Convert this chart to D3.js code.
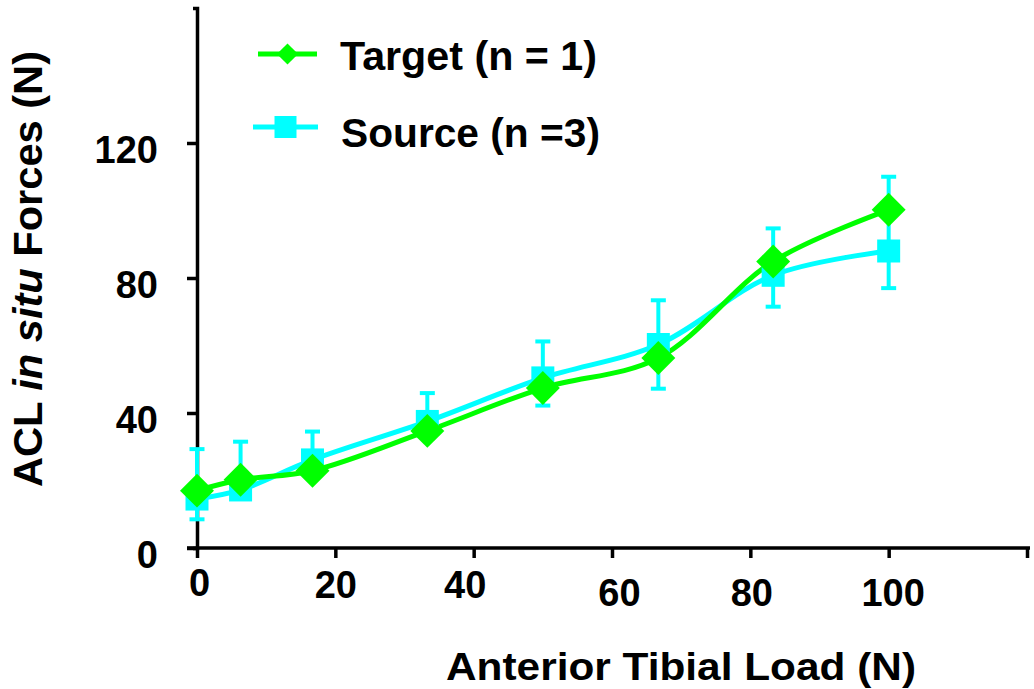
<!DOCTYPE html>
<html>
<head>
<meta charset="utf-8">
<script src="https://cdn.jsdelivr.net/npm/d3@7/dist/d3.min.js"></script>
<style>
  body { margin: 0; background: #fff; }
  svg { display: block; font-family: "Liberation Sans", Arial, sans-serif; }
</style>
</head>
<body>
<div id="container"></div>
<script>
// values
const loads = [0, 6.3, 16.7, 33.3, 50, 66.7, 83.3, 100];
const targetForce = [17.0, 20.2, 22.9, 34.7, 47.4, 56.3, 84.9, 100.2];
const sourceForce = [14.5, 17.2, 26.1, 37.5, 50.4, 60.3, 80.8, 88.0];
const sourceHigh = [29.3, 31.5, 34.5, 45.9, 61.2, 73.4, 94.7, 110.0];
const sourceLow = [8.5, 15.2, 24.5, 36.0, 42.2, 47.2, 71.5, 77.0];
const xTicks = [0, 20, 40, 60, 80, 100, 120];
const yTicks = [0, 40, 80, 120];
const seriesNames = ["Target (n = 1)", "Source (n =3)"];

const width = 1034;
const height = 689;
const green = "#00ff00";
const cyan = "#00ffff";

const svg = d3.select("#container")
  .append("svg")
  .attr("width", width)
  .attr("height", height);

const x = d3.scaleLinear().domain([0, 120]).range([197, 1027]);
const y = d3.scaleLinear().domain([0, 160]).range([548, 8]);

// small hand nudges so the x labels sit like the original
const xLabelNudge = { 0: [2, -2], 40: [-9, 0], 60: [7, 8], 80: [1, 8], 100: [4, 8] };

// axes
const xAxis = svg.append("g")
  .attr("transform", `translate(0,${y(0)})`)
  .call(d3.axisBottom(x).tickValues(xTicks).tickSize(10).tickSizeOuter(0)
    .tickFormat(d => d === 120 ? "" : d));
xAxis.select(".domain").attr("d", `M${x(0) - 10},0H${x(120) + 3}`);
xAxis.selectAll("text")
  .attr("font-size", 38)
  .attr("font-weight", "bold")
  .attr("font-family", "Liberation Sans, Arial, sans-serif")
  .attr("y", 23)
  .attr("transform", d => {
    const n = xLabelNudge[d] || [0, 0];
    return `translate(${n[0]},${n[1]})`;
  });

const yAxis = svg.append("g")
  .attr("transform", `translate(${x(0)},0)`)
  .call(d3.axisLeft(y).tickValues(yTicks).tickSize(10).tickSizeOuter(4).tickPadding(29));
yAxis.selectAll("text")
  .attr("font-size", 38)
  .attr("font-weight", "bold")
  .attr("font-family", "Liberation Sans, Arial, sans-serif")
  .attr("dy", "0.52em");

svg.selectAll(".domain, .tick line")
  .attr("stroke", "#000")
  .attr("stroke-width", 3.5);

// axis titles
svg.append("text")
  .attr("x", 681)
  .attr("y", 680)
  .attr("text-anchor", "middle")
  .attr("font-size", 39)
  .attr("font-weight", "bold")
  .attr("textLength", 470)
  .attr("lengthAdjust", "spacingAndGlyphs")
  .text("Anterior Tibial Load (N)");

const yTitle = svg.append("text")
  .attr("transform", "translate(42,269) rotate(-90)")
  .attr("text-anchor", "middle")
  .attr("font-size", 40)
  .attr("font-weight", "bold")
  .attr("textLength", 436)
  .attr("lengthAdjust", "spacingAndGlyphs");
yTitle.append("tspan").text("ACL ");
yTitle.append("tspan").attr("font-style", "italic").text("in situ");
yTitle.append("tspan").text(" Forces (N)");

// data
const target = loads.map((l, i) => ({ l, v: targetForce[i] }));
const source = loads.map((l, i) => ({ l, v: sourceForce[i], hi: sourceHigh[i], lo: sourceLow[i] }));

const line = d3.line()
  .x(d => x(d.l))
  .y(d => y(d.v))
  .curve(d3.curveCatmullRom.alpha(0.5));

svg.append("path")
  .attr("d", line(source))
  .attr("fill", "none")
  .attr("stroke", cyan)
  .attr("stroke-width", 5);

svg.append("path")
  .attr("d", line(target))
  .attr("fill", "none")
  .attr("stroke", green)
  .attr("stroke-width", 5);

// error bars for the source series
const err = svg.append("g")
  .attr("stroke", cyan)
  .attr("stroke-width", 4);
err.selectAll(".bar")
  .data(source)
  .join("line")
  .attr("x1", d => x(d.l))
  .attr("x2", d => x(d.l))
  .attr("y1", d => y(d.hi))
  .attr("y2", d => y(d.lo));
err.selectAll(".cap-hi")
  .data(source)
  .join("line")
  .attr("class", "cap-hi")
  .attr("x1", d => x(d.l) - 7.5)
  .attr("x2", d => x(d.l) + 7.5)
  .attr("y1", d => y(d.hi))
  .attr("y2", d => y(d.hi));
err.selectAll(".cap-lo")
  .data(source)
  .join("line")
  .attr("class", "cap-lo")
  .attr("x1", d => x(d.l) - 7.5)
  .attr("x2", d => x(d.l) + 7.5)
  .attr("y1", d => y(d.lo))
  .attr("y2", d => y(d.lo));

const square = d3.symbol().type(d3.symbolSquare).size(23 * 23);
const diamond = d3.symbol().type(d3.symbolSquare).size(24 * 24);

svg.selectAll(".src")
  .data(source)
  .join("path")
  .attr("class", "src")
  .attr("d", square)
  .attr("transform", d => `translate(${x(d.l)},${y(d.v)})`)
  .attr("fill", cyan);

svg.selectAll(".tgt")
  .data(target)
  .join("path")
  .attr("class", "tgt")
  .attr("d", diamond)
  .attr("transform", d => `translate(${x(d.l)},${y(d.v)}) rotate(45)`)
  .attr("fill", green);

// legend
const legend = svg.append("g");
const legendRows = [
  { name: seriesNames[0], color: green, y: 54, x1: 258, x2: 317, tx: 340, ty: 70, len: 257 },
  { name: seriesNames[1], color: cyan, y: 127, x1: 253, x2: 318, tx: 341, ty: 147, len: 259 }
];
legendRows.forEach((r, i) => {
  legend.append("line")
    .attr("x1", r.x1).attr("x2", r.x2)
    .attr("y1", r.y).attr("y2", r.y)
    .attr("stroke", r.color)
    .attr("stroke-width", 5);
  const cx = (r.x1 + r.x2) / 2;
  legend.append("path")
    .attr("d", i === 0 ? d3.symbol().type(d3.symbolSquare).size(15 * 15)() : d3.symbol().type(d3.symbolSquare).size(22 * 22)())
    .attr("transform", i === 0 ? `translate(${cx},${r.y}) rotate(45)` : `translate(${cx},${r.y})`)
    .attr("fill", r.color);
  legend.append("text")
    .attr("x", r.tx)
    .attr("y", r.ty)
    .attr("font-size", 40)
    .attr("font-weight", "bold")
    .attr("textLength", r.len)
    .attr("lengthAdjust", "spacingAndGlyphs")
    .text(r.name);
});
</script>
</body>
</html>
